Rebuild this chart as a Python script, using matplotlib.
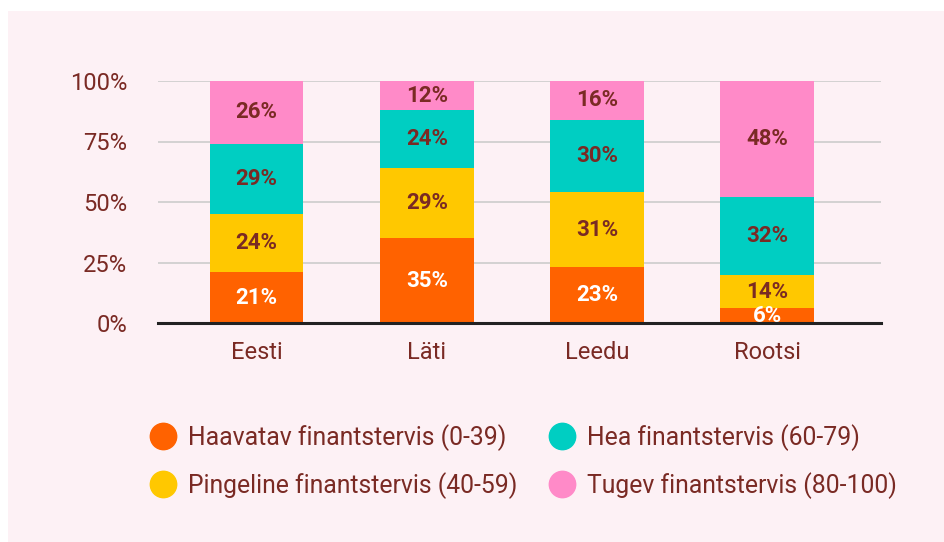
import matplotlib.pyplot as plt
from matplotlib.lines import Line2D
from matplotlib.patches import Rectangle

plt.rcParams['font.family'] = ['Roboto', 'DejaVu Sans']

# data (percent)
countries = ['Eesti', 'Läti', 'Leedu', 'Rootsi']
haavatav = [21, 35, 23, 6]
pingeline = [24, 29, 31, 14]
hea = [29, 24, 30, 32]
tugev = [26, 12, 16, 48]
labels = ['Haavatav finantstervis (0-39)', 'Pingeline finantstervis (40-59)',
          'Hea finantstervis (60-79)', 'Tugev finantstervis (80-100)']
y_ticks = [0, 25, 50, 75, 100]

colors = ['#FF6200', '#FFC800', '#00CEC2', '#FF8AC8']
text_c = '#7A2A24'
bg = '#FDF1F5'

fig = plt.figure(figsize=(9.45, 5.42), dpi=100, facecolor='white')
fig.patches.append(Rectangle((8 / 945, 0), 1, 1 - 11 / 542, transform=fig.transFigure,
                             facecolor=bg, edgecolor='none', zorder=-10))

ax = fig.add_axes([158 / 945, 1 - 323 / 542, (881 - 158) / 945, (323 - 81) / 542])
ax.patch.set_alpha(0)

x = range(len(countries))
series = [haavatav, pingeline, hea, tugev]
bottom = [0] * len(countries)
for i, vals in enumerate(series):
    bars = ax.bar(x, vals, bottom=bottom, width=0.55, color=colors[i], zorder=2)
    for b, v, b0 in zip(bars, vals, bottom):
        yc = b0 + v / 2
        ax.text(b.get_x() + b.get_width() / 2, yc, f'{v}%', ha='center', va='center',
                fontsize=16, fontweight='bold',
                color='white' if i == 0 else text_c, zorder=3)
    bottom = [a + b for a, b in zip(bottom, vals)]

ax.set_xlim(-0.58, 3.67)
ax.set_ylim(0, 100)
ax.set_yticks(y_ticks)
ax.set_yticklabels([f'{t}%' for t in y_ticks])
ax.set_xticks(list(x))
ax.set_xticklabels(countries)
ax.tick_params(axis='both', length=0, labelsize=17, colors=text_c)
ax.tick_params(axis='y', pad=22)
ax.tick_params(axis='x', pad=13)
ax.grid(axis='y', color='#CCCCCC', linewidth=1.2, zorder=1)
for s in ['top', 'right', 'left']:
    ax.spines[s].set_visible(False)
ax.spines['bottom'].set_color('#222222')
ax.spines['bottom'].set_linewidth(2.2)
ax.spines['bottom'].set_zorder(4)

handles = [Line2D([], [], marker='o', linestyle='none', markersize=19,
                  markerfacecolor=c, markeredgecolor=c) for c in colors]
leg = fig.legend(handles, labels, ncol=2, loc='upper left',
                 bbox_to_anchor=(136 / 945, 1 - 414 / 542), frameon=False,
                 fontsize=17.8, handlelength=1.4, handletextpad=0.3,
                 columnspacing=1.1, labelspacing=0.85, borderaxespad=0)
for t in leg.get_texts():
    t.set_color(text_c)

fig.savefig('out.png', dpi=100, facecolor=fig.get_facecolor())
